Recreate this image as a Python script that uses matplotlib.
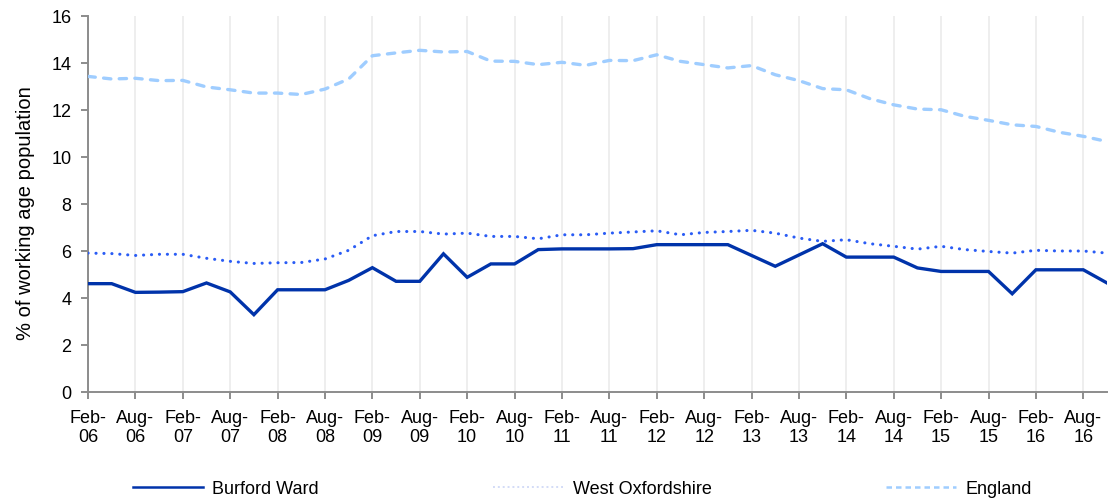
import matplotlib
matplotlib.use("Agg")
import matplotlib.pyplot as plt
from matplotlib.lines import Line2D
import numpy as np

# ---------------- data ----------------
tick_labels = ["Feb-\n06", "Aug-\n06", "Feb-\n07", "Aug-\n07", "Feb-\n08", "Aug-\n08",
               "Feb-\n09", "Aug-\n09", "Feb-\n10", "Aug-\n10", "Feb-\n11", "Aug-\n11",
               "Feb-\n12", "Aug-\n12", "Feb-\n13", "Aug-\n13", "Feb-\n14", "Aug-\n14",
               "Feb-\n15", "Aug-\n15", "Feb-\n16", "Aug-\n16"]

burford = [4.61, 4.61, 4.24, 4.25, 4.27, 4.64, 4.26, 3.29, 4.35, 4.35, 4.35, 4.75,
           5.29, 4.71, 4.71, 5.88, 4.88, 5.45, 5.45, 6.06, 6.09, 6.09, 6.09, 6.10,
           6.27, 6.27, 6.27, 6.27, 5.81, 5.35, 5.83, 6.31, 5.74, 5.74, 5.74, 5.28,
           5.13, 5.13, 5.13, 4.18, 5.20, 5.20, 5.20, 4.64]

west_oxon = [5.91, 5.89, 5.81, 5.86, 5.86, 5.69, 5.56, 5.47, 5.50, 5.51, 5.66, 6.03,
             6.65, 6.83, 6.83, 6.72, 6.76, 6.62, 6.62, 6.52, 6.69, 6.69, 6.76, 6.81,
             6.86, 6.69, 6.79, 6.83, 6.88, 6.76, 6.55, 6.41, 6.48, 6.31, 6.20, 6.08,
             6.20, 6.06, 5.98, 5.91, 6.03, 6.00, 6.00, 5.91]

england = [13.43, 13.32, 13.35, 13.25, 13.26, 12.98, 12.86, 12.72, 12.72, 12.66, 12.89, 13.32,
           14.31, 14.43, 14.54, 14.47, 14.49, 14.08, 14.07, 13.93, 14.03, 13.90, 14.11, 14.10,
           14.35, 14.07, 13.93, 13.79, 13.89, 13.50, 13.25, 12.91, 12.86, 12.48, 12.22, 12.04,
           12.01, 11.73, 11.56, 11.37, 11.30, 11.05, 10.88, 10.66]

series_names = ["Burford Ward", "West Oxfordshire", "England"]
y_label = "% of working age population"

# ---------------- plot ----------------
plt.rcParams['font.family'] = ['Liberation Sans', 'DejaVu Sans']
FS = 13

fig = plt.figure(figsize=(11.15, 4.98), dpi=100)
ax = fig.add_axes([88/1115, 1 - 392/498, (1107-88)/1115, (392-16)/498])

x = np.arange(len(burford))

c_bur = '#0033AA'
c_wox = '#2a5cf5'
c_eng = '#9fcdff'

ax.plot(x, england, color=c_eng, lw=2.4, linestyle=(0, (2.2, 2.5)),
        dash_capstyle='round', zorder=3)
ax.plot(x, west_oxon, color=c_wox, lw=2.2, linestyle=(0, (0.05, 2.55)),
        dash_capstyle='round', zorder=4)
ax.plot(x, burford, color=c_bur, lw=2.4, solid_joinstyle='miter', zorder=5)

ax.set_xlim(0, len(burford) - 1)
ax.set_ylim(0, 16)
ax.set_yticks(np.arange(0, 17, 2))
ax.set_xticks(np.arange(0, len(burford), 2))
ax.set_xticklabels(tick_labels, fontsize=FS, linespacing=1.15)
ax.tick_params(axis='y', labelsize=FS, length=5, width=1.4, color='#8c8c8c', pad=7)
ax.tick_params(axis='x', length=5, width=1.4, color='#8c8c8c', pad=8)

ax.grid(axis='x', color='#eeeeee', lw=1.4, zorder=0)
ax.set_axisbelow(True)

for s in ['top', 'right']:
    ax.spines[s].set_visible(False)
for s in ['left', 'bottom']:
    ax.spines[s].set_color('#8c8c8c')
    ax.spines[s].set_linewidth(1.4)

ax.set_ylabel(y_label, fontsize=14.5)
ax.yaxis.set_label_coords(-0.052, 0.476)

handles = [
    Line2D([], [], color=c_bur, lw=1.8),
    Line2D([], [], color='#d3dcf7', lw=1.4, linestyle=(0, (1, 1.5))),
    Line2D([], [], color=c_eng, lw=1.8, linestyle=(0, (2.2, 1.6))),
]
fig.legend(handles, series_names, loc='center left',
           bbox_to_anchor=(133/1115, 1 - 489/498), ncol=3, frameon=False,
           fontsize=FS, handlelength=3.9, handletextpad=0.5,
           columnspacing=9.65, borderpad=0, borderaxespad=0)

fig.savefig("out.png", dpi=100)
